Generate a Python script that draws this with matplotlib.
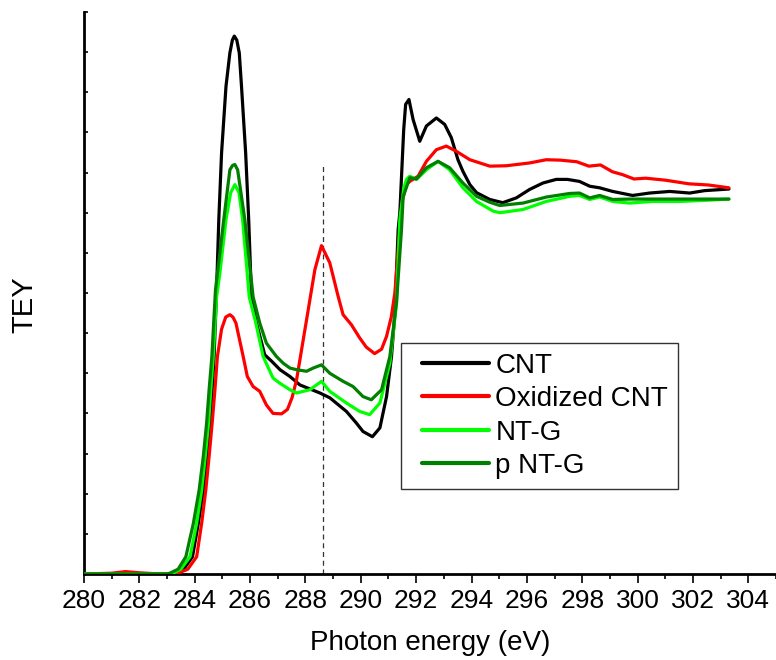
import numpy as np
import matplotlib
matplotlib.use("Agg")
import matplotlib.pyplot as plt
from matplotlib.ticker import MultipleLocator, NullFormatter
from matplotlib.lines import Line2D
from matplotlib.legend_handler import HandlerLine2D

plt.rcParams['font.family'] = ['Liberation Sans', 'DejaVu Sans']

# photon energy (eV) and TEY (arbitrary units)
e_cnt = [280, 281, 282, 283, 283.29, 283.6, 283.92, 284.13, 284.31, 284.43, 284.55, 284.63,
         284.7, 284.79, 284.87, 284.97, 285.13, 285.27, 285.36, 285.43, 285.52, 285.61,
         285.69, 285.84, 285.95, 286.05, 286.23, 286.53, 286.78, 287.08, 287.44, 287.8,
         288.52, 288.88, 289.48, 289.84, 290.08, 290.42, 290.69, 290.93, 291.11, 291.23,
         291.35, 291.41, 291.55, 291.62, 291.74, 291.89, 292.13, 292.37, 292.73, 293.03,
         293.27, 293.51, 293.69, 293.94, 294.18, 294.66, 295.13, 295.62, 296.1, 296.58,
         297.06, 297.46, 297.9, 298.27, 298.63, 299.1, 299.82, 300.43, 301.16, 301.88,
         302.42, 303.3]
tey_cnt = [0, 0, 0, 0, 0.002, 0.012, 0.043, 0.126, 0.209, 0.293, 0.376, 0.459,
           0.542, 0.708, 0.883, 1.049, 1.215, 1.298, 1.33, 1.34, 1.33, 1.298,
           1.215, 1.049, 0.883, 0.69, 0.625, 0.546, 0.53, 0.509, 0.492, 0.471,
           0.451, 0.439, 0.405, 0.376, 0.355, 0.342, 0.364, 0.442, 0.542, 0.65,
           0.858, 0.9, 1.107, 1.17, 1.182, 1.132, 1.078, 1.116, 1.136, 1.12,
           1.087, 1.032, 1.003, 0.97, 0.95, 0.933, 0.925, 0.937, 0.958, 0.974,
           0.983, 0.983, 0.978, 0.966, 0.962, 0.953, 0.943, 0.949, 0.953, 0.949,
           0.955, 0.959]

e_ox = [280, 281, 281.5, 282, 282.5, 283, 283.4, 283.75, 284.07, 284.25, 284.4, 284.52,
        284.63, 284.73, 284.82, 284.97, 285.12, 285.27, 285.38, 285.49, 285.75, 285.9,
        286.11, 286.35, 286.59, 286.83, 287.14, 287.35, 287.52, 287.68, 288.04, 288.34,
        288.58, 288.88, 289.18, 289.36, 289.66, 289.96, 290.2, 290.5, 290.75, 290.93,
        291.1, 291.23, 291.35, 291.5, 291.65, 291.77, 292.07, 292.37, 292.73, 293.09,
        293.45, 293.94, 294.66, 295.26, 296.1, 296.7, 297.2, 297.8, 298.24, 298.66,
        299.09, 299.45, 299.87, 300.29, 301.01, 301.85, 302.57, 303.3]
tey_ox = [0, 0.002, 0.006, 0.003, 0.001, 0, 0.002, 0.012, 0.043, 0.126, 0.209, 0.293,
          0.376, 0.459, 0.542, 0.61, 0.64, 0.646, 0.64, 0.625, 0.542, 0.492,
          0.467, 0.455, 0.421, 0.4, 0.399, 0.41, 0.44, 0.484, 0.633, 0.758,
          0.818, 0.775, 0.692, 0.646, 0.621, 0.588, 0.565, 0.549, 0.56, 0.592,
          0.64, 0.70, 0.808, 0.93, 0.97, 0.978, 0.991, 1.028, 1.057, 1.066,
          1.053, 1.032, 1.016, 1.017, 1.024, 1.032, 1.031, 1.027, 1.016, 1.019,
          1.002, 0.995, 0.984, 0.986, 0.981, 0.972, 0.969, 0.962]

e_ntg = [280, 281, 282, 283, 283.22, 283.5, 283.83, 284.07, 284.25, 284.38, 284.5, 284.58,
         284.67, 284.79, 284.91, 285.13, 285.3, 285.45, 285.6, 285.73, 285.97, 286.21,
         286.47, 286.83, 287.08, 287.44, 287.68, 288.16, 288.58, 288.88, 289.48, 289.96,
         290.32, 290.69, 291.05, 291.29, 291.41, 291.55, 291.65, 291.77, 292.01, 292.37,
         292.79, 293.21, 293.69, 294.18, 294.78, 295.02, 295.86, 296.7, 297.55, 297.9,
         298.27, 298.63, 299.11, 299.71, 300.5, 301.5, 302.5, 303.3]
tey_ntg = [0, 0, 0, 0, 0.002, 0.012, 0.043, 0.126, 0.209, 0.293, 0.376, 0.459,
           0.542, 0.69, 0.75, 0.883, 0.95, 0.97, 0.95, 0.883, 0.69, 0.625,
           0.542, 0.488, 0.475, 0.459, 0.451, 0.459, 0.48, 0.455, 0.426, 0.405,
           0.397, 0.426, 0.525, 0.675, 0.883, 0.96, 0.983, 0.991, 0.983, 1.007,
           1.028, 1.007, 0.962, 0.928, 0.904, 0.9, 0.908, 0.928, 0.941, 0.943,
           0.933, 0.939, 0.928, 0.924, 0.928, 0.928, 0.931, 0.934]

e_pntg = [280, 281, 282, 283, 283.1, 283.4, 283.68, 283.95, 284.16, 284.31, 284.43, 284.52,
          284.62, 284.75, 285.05, 285.27, 285.37, 285.45, 285.55, 285.81, 286.11, 286.35,
          286.59, 286.95, 287.2, 287.44, 287.68, 288.04, 288.28, 288.58, 288.88, 289.36,
          289.72, 290.08, 290.38, 290.75, 291.05, 291.29, 291.47, 291.53, 291.77, 292.01,
          292.37, 292.79, 293.21, 293.69, 294.18, 294.66, 295.02, 295.86, 296.7, 297.55,
          297.9, 298.27, 298.63, 299.1, 299.7, 300.8, 303.3]
tey_pntg = [0, 0, 0, 0, 0.002, 0.012, 0.043, 0.126, 0.209, 0.293, 0.376, 0.459,
            0.542, 0.708, 0.883, 1.007, 1.018, 1.02, 1.007, 0.883, 0.69, 0.625,
            0.575, 0.542, 0.525, 0.513, 0.509, 0.505, 0.513, 0.521, 0.5, 0.48,
            0.467, 0.442, 0.434, 0.459, 0.542, 0.676, 0.858, 0.94, 0.987, 0.984,
            1.012, 1.028, 1.012, 0.974, 0.941, 0.926, 0.918, 0.924, 0.939, 0.948,
            0.949, 0.937, 0.943, 0.933, 0.934, 0.934, 0.934]

labels = ['CNT', 'Oxidized CNT', 'NT-G', 'p NT-G']
colors = ['black', '#ff0000', '#00ff00', '#007f00']
marker_e = 288.62
marker_top = 1.02

fig = plt.figure(figsize=(7.76, 6.6), dpi=100)
ax = fig.add_axes([84/776, 86/660, 692/776, 562/660])

series = [(e_cnt, tey_cnt), (e_ox, tey_ox), (e_ntg, tey_ntg), (e_pntg, tey_pntg)]
for (x, y), lab, c in zip(series, labels, colors):
    ax.plot(x, y, color=c, lw=2.3, label=lab, zorder=3,
            solid_joinstyle='round', solid_capstyle='round')

ax.plot([marker_e, marker_e], [0, marker_top], color='#333333', lw=0.9,
        ls=(0, (4, 3)), zorder=2)

ax.set_xlim(280, 305)
ax.set_ylim(0, 1.4)
ax.xaxis.set_major_locator(MultipleLocator(2))
ax.xaxis.set_minor_locator(MultipleLocator(1))
ax.yaxis.set_major_locator(MultipleLocator(0.1))
ax.yaxis.set_major_formatter(NullFormatter())
ax.tick_params(axis='x', which='major', direction='out', length=6.5, width=1.2,
               labelsize=19, pad=4)
ax.tick_params(axis='x', which='minor', direction='out', length=3.5, width=1.2)
ax.tick_params(axis='y', which='major', direction='in', length=3, width=1.2)

for s in ['top', 'right']:
    ax.spines[s].set_visible(False)
for s in ['left', 'bottom']:
    ax.spines[s].set_linewidth(2)

ax.set_xlabel('Photon energy (eV)', fontsize=20)
ax.set_ylabel('TEY', fontsize=21)
ax.xaxis.set_label_coords(0.5, -0.100)
ax.yaxis.set_label_coords(-0.066, 0.48)

leg = ax.legend(loc='upper left', bbox_to_anchor=(0.4577, 0.4116), borderaxespad=0,
                fontsize=20, frameon=True, fancybox=False, handlelength=2.8,
                handletextpad=0.25, labelspacing=0.27, borderpad=0.36,
                handler_map={Line2D: HandlerLine2D(xpad=0.4)})
leg.get_frame().set_edgecolor('black')
leg.get_frame().set_linewidth(1)
for line in leg.get_lines():
    line.set_linewidth(3)

fig.savefig('out.png', dpi=100)
